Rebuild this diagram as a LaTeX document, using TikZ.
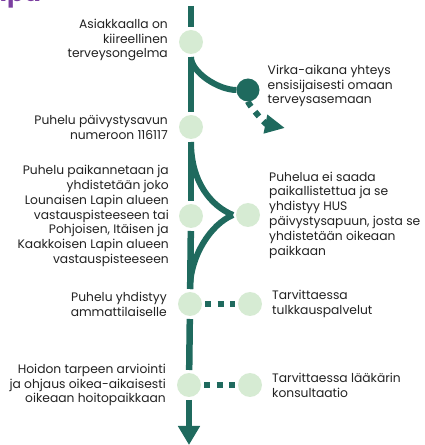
\documentclass[tikz,border=0pt]{standalone}
\usepackage{fontspec}
\setmainfont{Poppins}
\usepackage{xcolor}
\usetikzlibrary{arrows.meta, positioning, calc}
\definecolor{psGreen}{RGB}{31,106,94}
\definecolor{psMint}{RGB}{214,235,211}
\definecolor{psInk}{RGB}{34,34,34}
\definecolor{psPurple}{RGB}{123,63,160}

\begin{document}
\begin{tikzpicture}[x=1pt,y=1pt,
  D/.style={circle,fill=psMint,minimum size=24pt,inner sep=0pt,outer sep=3pt},
  K/.style={circle,fill=psGreen,minimum size=23pt,inner sep=0pt,outer sep=0pt},
  L/.style={align=right,text=psInk,inner sep=0pt,
            font=\fontsize{12.3}{14.8}\selectfont},
  R/.style={align=left,text=psInk,inner sep=0pt,
            font=\fontsize{12.3}{14.8}\selectfont},
  bar/.style={draw=psGreen,line width=6.5pt},
  dots/.style={draw=psGreen,line width=6pt,dash pattern=on 6pt off 6.5pt}]

\useasboundingbox (0,0) rectangle (425,445);

% title, cut by the top edge
\node[anchor=base west,inner sep=0pt,text=psPurple,
      font=\fontsize{25}{25}\selectfont\bfseries] (ttl) at (-10,443) {apu};

% main line
\coordinate (top) at (191,439);
\node[D] (c1) at (191,403) {};
\node[D] (c2) at (191,318) {};
\node[D] (c3) at (191,229) {};
\node[D] (c4) at (190,141) {};
\node[D] (c5) at (189,60) {};
\coordinate (bot) at (189,0);

% side points
\node[K] (r1) at (248,355) {};
\node[D] (r3) at (248,230) {};
\node[D] (r4) at (250,141) {};
\node[D] (r5) at (250,60) {};
\coordinate (k) at (r3.west);
\coordinate (tip) at (285,317);

% texts on the left
\node[L,left=8pt of c1,yshift=2pt] (t1) {Asiakkaalla on\\kiireellinen\\terveysongelma};
\node[L,left=8pt of c2] (t2) {Puhelu päivystysavun\\numeroon 116117};
\node[L,left=7pt of c3] (t3) {Puhelu paikannetaan ja\\yhdistetään joko\\Lounaisen Lapin alueen\\vastauspisteeseen tai\\Pohjoisen, Itäisen ja\\Kaakkoisen Lapin alueen\\vastauspisteeseen};
\node[L,left=8pt of c4] (t4) {Puhelu yhdistyy\\ammattilaiselle};
\node[L,left=8pt of c5] (t5) {Hoidon tarpeen arviointi\\ja ohjaus oikea-aikaisesti\\oikeaan hoitopaikkaan};

% texts on the right
\node[R,right=8pt of r1,yshift=4pt] (s1) {Virka-aikana yhteys\\ensisijaisesti omaan\\terveysasemaan};
\node[R,right=6pt of r3] (s3) {Puhelua ei saada\\paikallistettua ja se\\yhdistyy HUS\\päivystysapuun, josta se\\yhdistetään oikeaan\\paikkaan};
\node[R,right=7pt of r4] (s4) {Tarvittaessa\\tulkkauspalvelut};
\node[R,right=7pt of r5] (s5) {Tarvittaessa lääkärin\\konsultaatio};

\draw[bar] (top) -- (c1);
\draw[bar] (c1) -- (c2);
\draw[bar,line width=6pt] (c1) .. controls +(0,-30) and +(-30,0) .. (r1);
\draw[dots,-{Triangle[length=20pt,width=18pt]}]
  (r1) .. controls +(0,-14) and +(-20,4) .. (tip);
\draw[bar] (c2) -- (c3);
\draw[bar,line width=6pt] (c2) .. controls +(0,-55) and +(-22,9) .. (k);
\draw[bar,line width=6pt] (k) .. controls +(-22,-9) and +(0,48) .. (c4);
\draw[bar] (c3) -- (c4);
\draw[dots] (c4) -- (r4);
\draw[bar] (c4) -- (c5);
\draw[dots] (c5) -- (r5);
\draw[bar,-{Triangle[length=19pt,width=21pt]}] (c5) -- (bot);
\end{tikzpicture}
\end{document}
